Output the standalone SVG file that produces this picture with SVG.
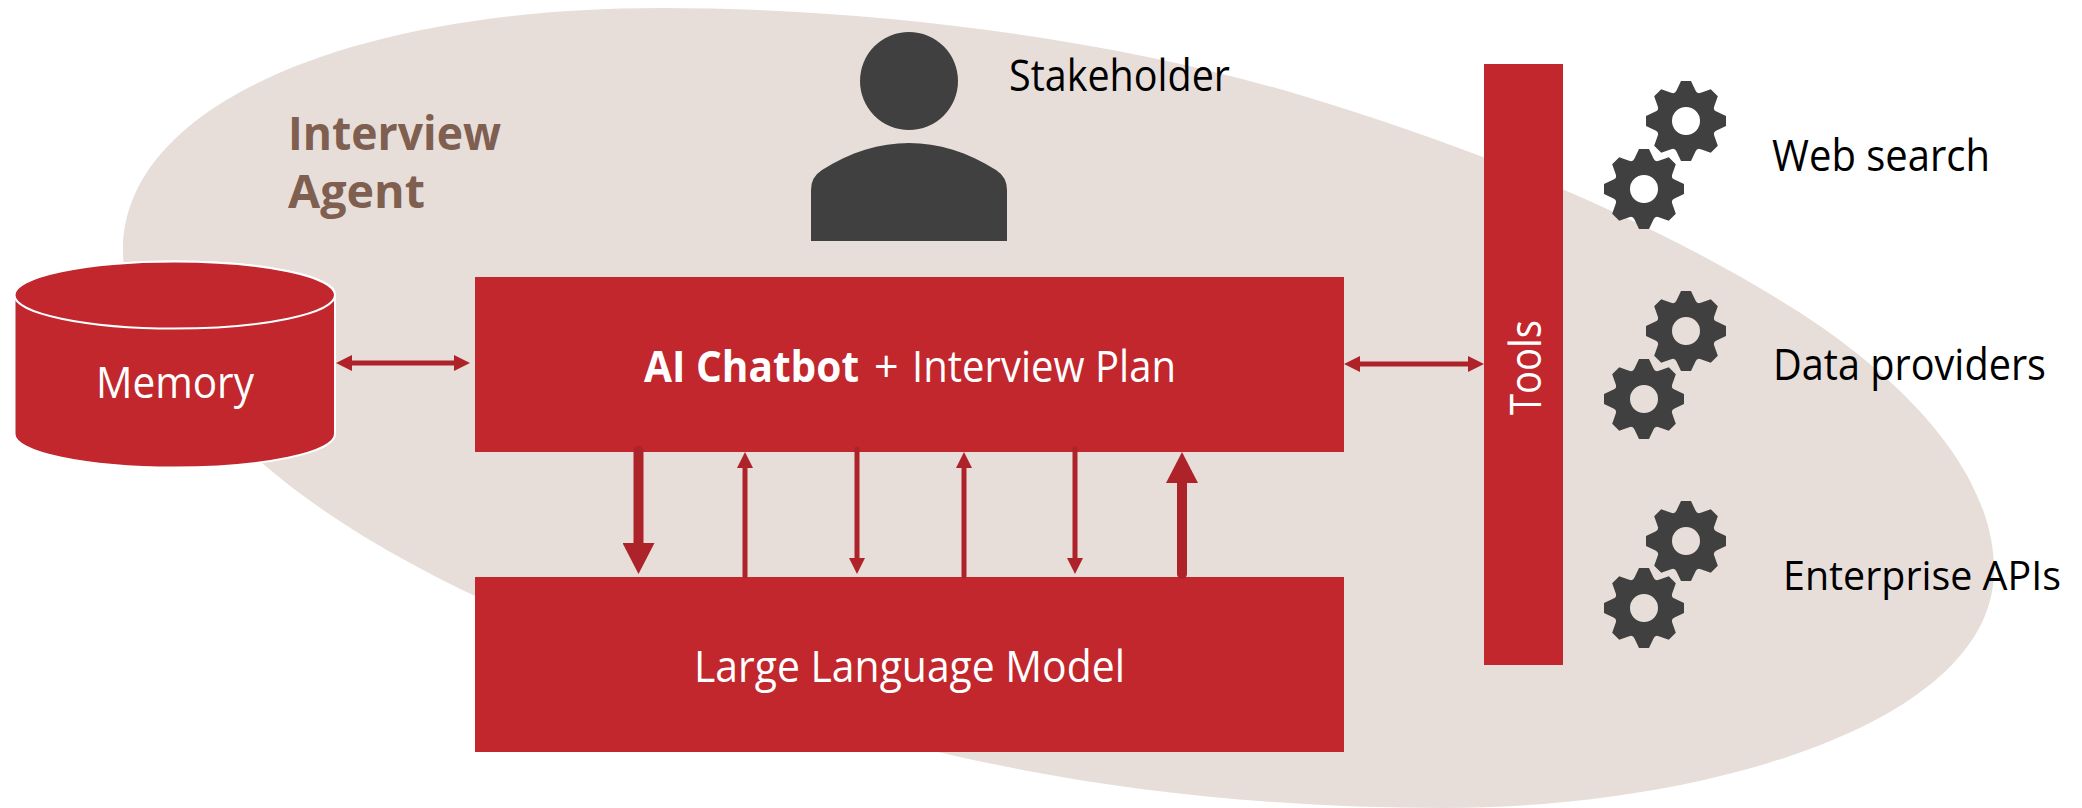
<svg xmlns="http://www.w3.org/2000/svg" xmlns:xlink="http://www.w3.org/1999/xlink" width="2082" height="808" viewBox="0 0 2082 808">
<style>
text{font-family:"Open Sans","Noto Sans","Liberation Sans",sans-serif}
.box{fill:#C1272D}
.dark{fill:#404040}
.lab{font-size:43px;fill:#000}
.wlab{font-size:43px;fill:#fff}
.title{font-size:46px;font-weight:700;fill:#7F5F50}
.thin{stroke:#AE2229;stroke-width:5;stroke-linecap:round;fill:none}
.thick{stroke:#AE2229;stroke-width:10;stroke-linecap:round;fill:none}
.h{stroke:#AE2229;stroke-width:5;fill:none}
</style>
<defs>
<marker id="headS" markerUnits="userSpaceOnUse" markerWidth="16" markerHeight="16" refX="0" refY="8" orient="auto-start-reverse"><path d="M0,0L16,8L0,16Z" fill="#AE2229"/></marker>
<marker id="headL" markerUnits="userSpaceOnUse" markerWidth="32" markerHeight="32" refX="0" refY="16" orient="auto"><path d="M0,0L31,16L0,32Z" fill="#AE2229"/></marker>
<path id="gear" fill-rule="evenodd" fill="#404040" d="M-5,-40L5,-40L9.5,-30.5Q11.1,-26.8 14.85,-28.28L24.75,-31.82L31.82,-24.75L28.28,-14.85Q26.8,-11.1 30.5,-9.5L40,-5L40,5L30.5,9.5Q26.8,11.1 28.28,14.85L31.82,24.75L24.75,31.82L14.85,28.28Q11.1,26.8 9.5,30.5L5,40L-5,40L-9.5,30.5Q-11.1,26.8 -14.85,28.28L-24.75,31.82L-31.82,24.75L-28.28,14.85Q-26.8,11.1 -30.5,9.5L-40,5L-40,-5L-30.5,-9.5Q-26.8,-11.1 -28.28,-14.85L-31.82,-24.75L-24.75,-31.82L-14.85,-28.28Q-11.1,-26.8 -9.5,-30.5ZM14,0A14,14 0 1 0 -14,0A14,14 0 1 0 14,0Z"/>
</defs>
<g id="agent-area">
<path fill="#E7DEDA" d="M123,250C123,105 350,8 661,8C860,8 1100,35 1300,95C1470,146 1650,217 1799,312C1900,377 1994,470 1994,570C1994,725 1700,808 1444,808C1270,808 1100,790 938,752C700,695 420,600 262,463C180,395 123,330 123,250Z"/>
<text class="title" x="288" y="150" textLength="213" lengthAdjust="spacingAndGlyphs">Interview</text>
<text class="title" x="288" y="208" textLength="137" lengthAdjust="spacingAndGlyphs">Agent</text>
</g>
<g id="stakeholder">
<circle class="dark" cx="909" cy="81" r="49"/>
<path class="dark" d="M811,241V190Q811,177 822,170C850,152 880,143 909,143C938,143 968,152 996,170Q1007,177 1007,190V241Z"/>
<text class="lab" x="1009" y="91" textLength="221" lengthAdjust="spacingAndGlyphs">Stakeholder</text>
</g>
<g id="memory">
<path class="box" stroke="#fff" stroke-width="2" d="M14.500,295V434A160,33.500 0 0 0 335,434V295A160,33.500 0 0 0 14.500,295Z"/>
<ellipse class="box" stroke="#fff" stroke-width="2" cx="174.750" cy="295" rx="160.250" ry="33.500"/>
<text class="wlab" x="96" y="398" textLength="158" lengthAdjust="spacingAndGlyphs">Memory</text>
</g>
<g id="chatbot">
<rect class="box" x="475" y="277" width="869" height="175"/>
<text class="wlab" x="644" y="382" font-weight="700" textLength="215" lengthAdjust="spacingAndGlyphs">AI Chatbot</text>
<text class="wlab" x="874" y="382">+</text>
<text class="wlab" x="912" y="382" textLength="264" lengthAdjust="spacingAndGlyphs">Interview Plan</text>
</g>
<g id="llm">
<rect class="box" x="475" y="577" width="869" height="175"/>
<text class="wlab" x="694" y="682" textLength="431" lengthAdjust="spacingAndGlyphs">Large Language Model</text>
</g>
<g id="tools">
<rect class="box" x="1484" y="64" width="79" height="601"/>
<text class="wlab" transform="translate(1541,415) rotate(-90)" textLength="95" lengthAdjust="spacingAndGlyphs">Tools</text>
</g>
<g id="web-search">
<use xlink:href="#gear" href="#gear" x="1686" y="121"/>
<use xlink:href="#gear" href="#gear" x="1644" y="189"/>
<text class="lab" x="1772" y="171" textLength="218" lengthAdjust="spacingAndGlyphs">Web search</text>
</g>
<g id="data-providers">
<use xlink:href="#gear" href="#gear" x="1686" y="331"/>
<use xlink:href="#gear" href="#gear" x="1644" y="399"/>
<text class="lab" x="1773" y="380" textLength="273" lengthAdjust="spacingAndGlyphs">Data providers</text>
</g>
<g id="enterprise-apis">
<use xlink:href="#gear" href="#gear" x="1686" y="541"/>
<use xlink:href="#gear" href="#gear" x="1644" y="608"/>
<text class="lab" style="font-size:41px" x="1783" y="590" textLength="278" lengthAdjust="spacingAndGlyphs">Enterprise APIs</text>
</g>
<g id="connectors">
<line class="h" x1="352" y1="363" x2="454" y2="363" marker-start="url(#headS)" marker-end="url(#headS)"/>
<line class="h" x1="1360" y1="364" x2="1468" y2="364" marker-start="url(#headS)" marker-end="url(#headS)"/>
<line class="thick" x1="638.500" y1="451" x2="638.500" y2="543" marker-end="url(#headL)"/>
<line class="thin" x1="745" y1="576" x2="745" y2="468" marker-end="url(#headS)"/>
<line class="thin" x1="857" y1="449" x2="857" y2="558" marker-end="url(#headS)"/>
<line class="thin" x1="964" y1="576" x2="964" y2="468" marker-end="url(#headS)"/>
<line class="thin" x1="1075" y1="449" x2="1075" y2="558" marker-end="url(#headS)"/>
<line class="thick" x1="1182" y1="574" x2="1182" y2="483" marker-end="url(#headL)"/>
</g>
</svg>
